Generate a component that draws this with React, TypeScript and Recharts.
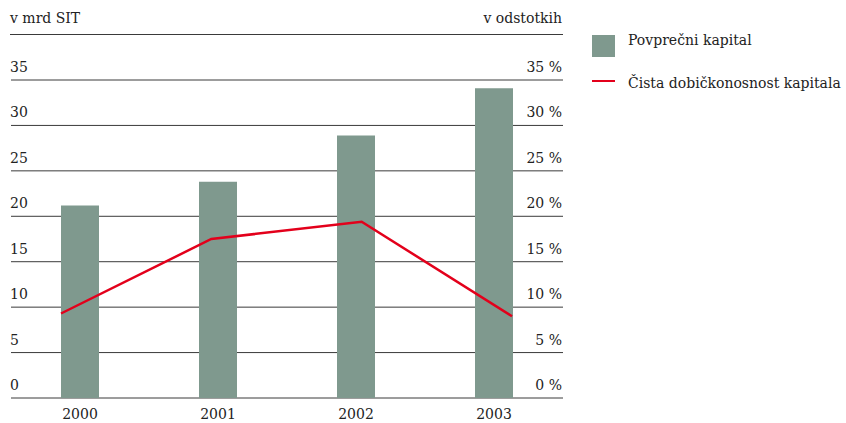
import React from "react";
import {
  ComposedChart,
  Bar,
  Line,
  XAxis,
  YAxis,
  CartesianGrid,
} from "recharts";

// values
const years = ["2000", "2001", "2002", "2003"];
const capital = [21.2, 23.8, 28.9, 34.1];
const returnOnEquity = [9.3, 17.5, 19.4, 9.0];
const yTicks = [0, 5, 10, 15, 20, 25, 30, 35];

const BAR_COLOR = "#7f998e";
const LINE_COLOR = "#e3001b";
const GRID_COLOR = "#3a3a3a";
const FONT = "'DejaVu Serif', serif";
const FONT_SIZE = 14;
const TEXT_COLOR = "#222";

const PLOT_LEFT = 11;
const PLOT_RIGHT = 563;

const data = years.map((year, i) => ({
  year,
  capital: capital[i],
  roe: returnOnEquity[i],
}));

const LeftTick = ({ y, payload }: any) => (
  <text
    x={PLOT_LEFT - 1}
    y={y - 8}
    fontFamily={FONT}
    fontSize={FONT_SIZE}
    fill={TEXT_COLOR}
    textAnchor="start"
  >
    {payload.value}
  </text>
);

const RightTick = ({ y, payload }: any) => (
  <text
    x={PLOT_RIGHT - 1}
    y={y - 8}
    fontFamily={FONT}
    fontSize={FONT_SIZE}
    fill={TEXT_COLOR}
    textAnchor="end"
  >
    {`${payload.value} %`}
  </text>
);

const YearTick = ({ x, y, payload }: any) => (
  <text
    x={x}
    y={y + 13}
    fontFamily={FONT}
    fontSize={FONT_SIZE}
    fill={TEXT_COLOR}
    textAnchor="middle"
  >
    {payload.value}
  </text>
);

const legendText: React.CSSProperties = {
  position: "absolute",
  left: 628,
  fontFamily: FONT,
  fontSize: FONT_SIZE,
  color: TEXT_COLOR,
  whiteSpace: "nowrap",
};

export default function App() {
  return (
    <div
      style={{
        position: "absolute",
        left: 0,
        top: 0,
        width: 846,
        height: 423,
        background: "#fff",
      }}
    >
      {/* axis headers */}
      <div
        style={{
          position: "absolute",
          left: PLOT_LEFT - 1,
          top: 10,
          fontFamily: FONT,
          fontSize: FONT_SIZE,
          color: TEXT_COLOR,
        }}
      >
        v mrd SIT
      </div>
      <div
        style={{
          position: "absolute",
          right: 846 - PLOT_RIGHT + 1,
          top: 10,
          fontFamily: FONT,
          fontSize: FONT_SIZE,
          color: TEXT_COLOR,
        }}
      >
        v odstotkih
      </div>
      <div
        style={{
          position: "absolute",
          left: PLOT_LEFT - 1,
          top: 34,
          width: PLOT_RIGHT - PLOT_LEFT + 1,
          borderTop: `1px solid ${GRID_COLOR}`,
        }}
      />

      {/* legend */}
      <div
        style={{
          position: "absolute",
          left: 592,
          top: 35,
          width: 23,
          height: 22,
          background: BAR_COLOR,
        }}
      />
      <div style={{ ...legendText, top: 32 }}>Povprečni kapital</div>
      <div
        style={{
          position: "absolute",
          left: 592,
          top: 80,
          width: 23,
          height: 2,
          background: LINE_COLOR,
        }}
      />
      <div style={{ ...legendText, top: 75 }}>Čista dobičkonosnost kapitala</div>

      <ComposedChart
        width={846}
        height={423}
        data={data}
        margin={{ top: 80, right: 846 - PLOT_RIGHT - 1, bottom: 0, left: PLOT_LEFT - 1 }}
        barCategoryGap={50}
        style={{ position: "absolute", left: 0, top: 0 }}
      >
        <CartesianGrid
          vertical={false}
          stroke={GRID_COLOR}
          strokeWidth={1}
          yAxisId="left"
          xAxisId="bars"
        />
        <XAxis
          xAxisId="bars"
          dataKey="year"
          axisLine={false}
          tickLine={false}
          height={25}
          tick={<YearTick />}
          interval={0}
        />
        <XAxis
          xAxisId="line"
          dataKey="year"
          scale="point"
          padding={{ left: 50, right: 51 }}
          hide
        />
        <YAxis
          yAxisId="left"
          domain={[0, 35]}
          ticks={yTicks}
          width={1}
          axisLine={false}
          tickLine={false}
          tick={<LeftTick />}
          interval={0}
        />
        <YAxis
          yAxisId="right"
          orientation="right"
          domain={[0, 35]}
          ticks={yTicks}
          width={1}
          axisLine={false}
          tickLine={false}
          tick={<RightTick />}
          interval={0}
        />
        <Bar
          xAxisId="bars"
          yAxisId="left"
          dataKey="capital"
          name="Povprečni kapital"
          fill={BAR_COLOR}
          barSize={38}
          isAnimationActive={false}
        />
        <Line
          xAxisId="line"
          yAxisId="right"
          dataKey="roe"
          name="Čista dobičkonosnost kapitala"
          type="linear"
          stroke={LINE_COLOR}
          strokeWidth={2.5}
          dot={false}
          activeDot={false}
          isAnimationActive={false}
        />
      </ComposedChart>
    </div>
  );
}
